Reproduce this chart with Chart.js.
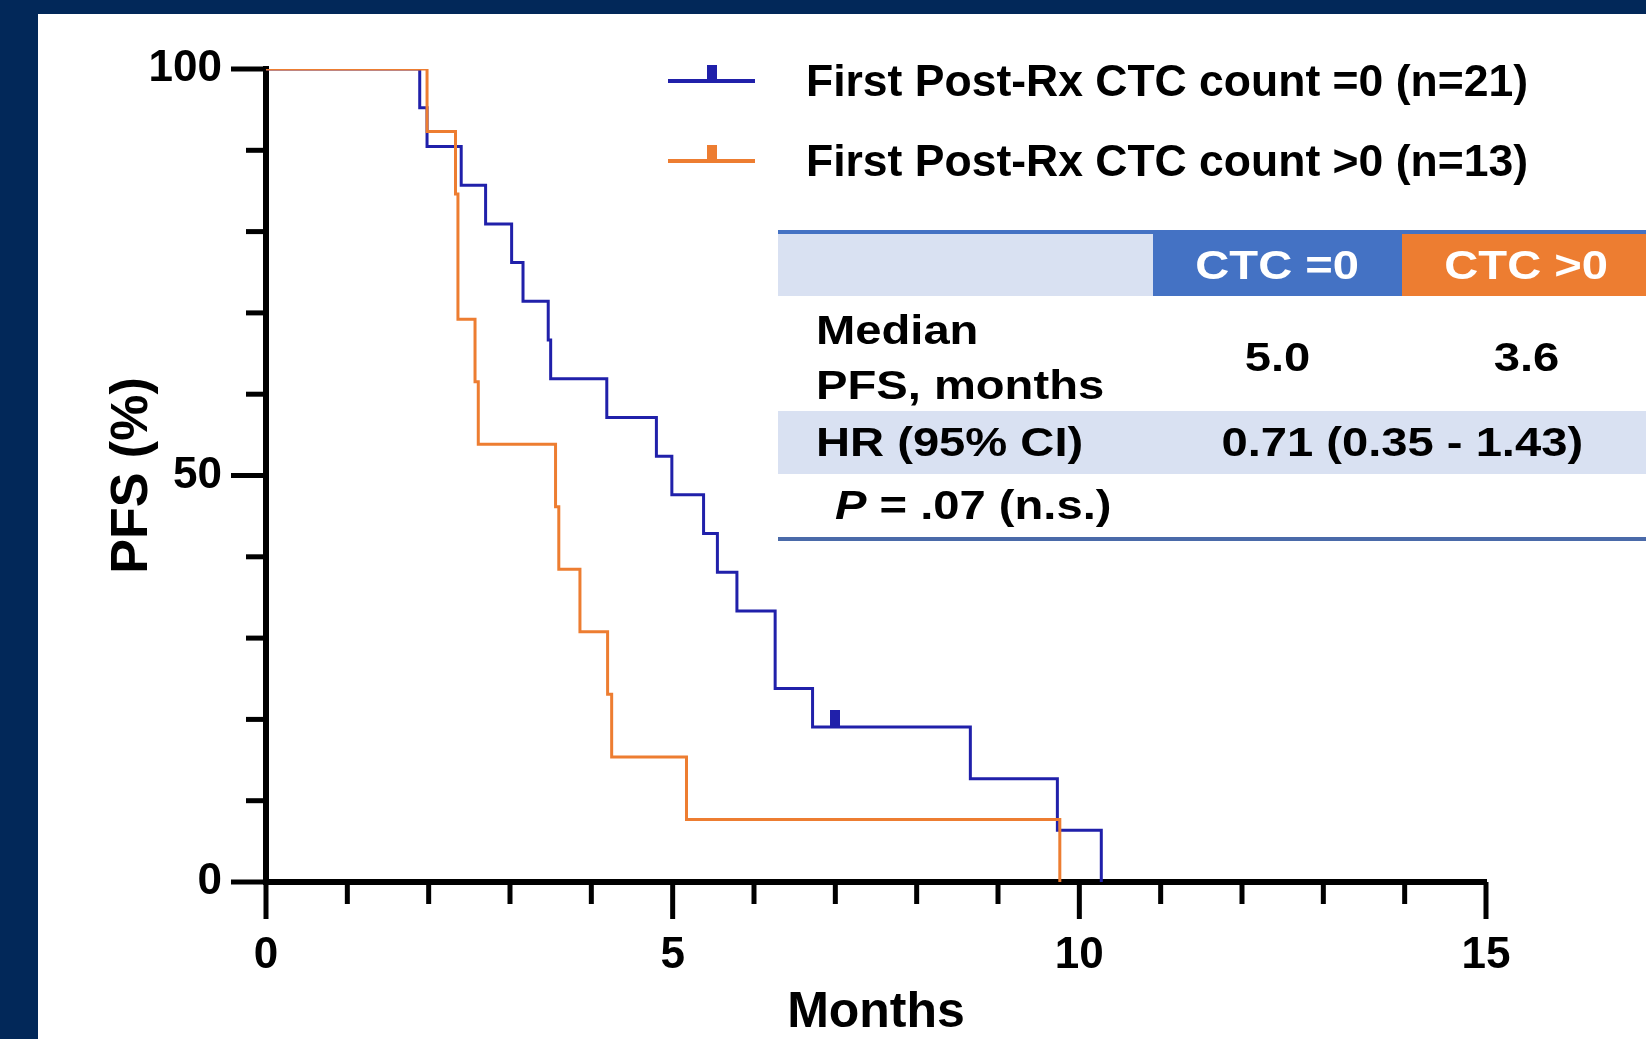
<!DOCTYPE html>
<html>
<head>
<meta charset="utf-8">
<title>PFS by first post-Rx CTC count</title>
<script src="https://cdn.jsdelivr.net/npm/chart.js@4.4.1/dist/chart.umd.min.js"></script>
<style>
  html, body { margin: 0; padding: 0; }
  body { width: 1646px; height: 1039px; background: #022859; overflow: hidden; position: relative; font-family: 'Liberation Sans', Arial, sans-serif; }
  #panel { position: absolute; left: 38px; top: 14px; width: 1608px; height: 1025px; background: #fff; overflow: hidden; }
  #chart { position: absolute; left: 0; top: 0; }
  .legend-row { position: absolute; left: 630px; width: 900px; height: 60px; }
  .legend-row .swatch { position: absolute; left: 0; top: 28px; width: 87px; height: 4px; }
  .legend-row .mark { position: absolute; left: 39px; top: 14px; width: 10px; height: 16px; }
  .legend-row .label { position: absolute; left: 138px; top: 0; line-height: 60px; font-size: 44.5px; font-weight: bold; color: #000; white-space: nowrap; }
  #stats { position: absolute; left: 740px; top: 216px; width: 873px; border-top: 4px solid #4472c4; border-bottom: 4px solid #4a6aa9; }
  .row { display: flex; box-sizing: border-box; }
  .cell { display: flex; align-items: center; box-sizing: border-box; font-size: 41px; font-weight: bold; color: #000; white-space: nowrap; line-height: 55px; }
  .cell.c { justify-content: center; }
  .cell span { display: inline-block; transform: scaleX(1.15); }
  .cell.l span { transform-origin: left center; }
</style>
</head>
<body>
<div id="panel">
  <canvas id="chart" width="1608" height="1025" style="width:1608px;height:1025px"></canvas>
  <div id="legend"></div>
  <div id="stats"></div>
</div>
<script>
// Kaplan-Meier steps (months, % progression-free)
var blueMonths   = [0, 1.89, 1.98, 2.40, 2.70, 3.02, 3.16, 3.47, 3.50, 4.19, 4.80, 4.99, 5.38, 5.55, 5.79, 6.26, 6.72, 8.66, 9.73, 10.27];
var blueSurvival = [100, 95.24, 90.48, 85.71, 80.95, 76.19, 71.43, 66.67, 61.90, 57.14, 52.38, 47.62, 42.86, 38.10, 33.33, 23.81, 19.05, 12.70, 6.35, 0];
var blueCensorMonths   = [7.00];
var blueCensorSurvival = [19.05];

var orangeMonths   = [0, 1.98, 2.33, 2.36, 2.57, 2.61, 3.56, 3.60, 3.86, 4.20, 4.25, 5.17, 9.76];
var orangeSurvival = [100, 92.31, 84.62, 69.23, 61.54, 53.85, 46.15, 38.46, 30.77, 23.08, 15.38, 7.69, 0];

var seriesLabels = ['First Post-Rx CTC count =0 (n=21)', 'First Post-Rx CTC count >0 (n=13)'];
var xTickValues = [0, 5, 10, 15];
var yTickValues = [0, 50, 100];

var tableHeader = ['', 'CTC =0', 'CTC >0'];
var medianLabel = ['Median', 'PFS, months'];
var medianValues = ['5.0', '3.6'];
var hrLabel = 'HR (95% CI)';
var hrValue = '0.71 (0.35 - 1.43)';
var pValue = '= .07 (n.s.)';

var blue = '#2020aa';
var orange = '#ed7d31';
var font = "'Liberation Sans', Arial, sans-serif";

function toPoints(xs, ys) {
  return xs.map(function(x, i) { return { x: x, y: ys[i] }; });
}

// censor tick: small block sitting on top of the curve
function censorMark(color) {
  var c = document.createElement('canvas');
  c.width = 10; c.height = 34;
  var g = c.getContext('2d');
  g.fillStyle = color;
  g.fillRect(0, 0, 10, 17);
  return c;
}

// major / minor tick marks like the original graph
var axisTicks = {
  id: 'axisTicks',
  beforeDatasetsDraw: function(chart) {
    var ctx = chart.ctx, x = chart.scales.x, y = chart.scales.y;
    ctx.save();
    ctx.strokeStyle = '#000';
    ctx.lineWidth = 5;
    for (var m = x.min; m <= x.max; m++) {
      var px = x.getPixelForValue(m);
      ctx.beginPath(); ctx.moveTo(px, x.top); ctx.lineTo(px, x.top + (m % 5 === 0 ? 37 : 22)); ctx.stroke();
    }
    for (var v = y.min; v <= y.max; v += 10) {
      var py = y.getPixelForValue(v);
      ctx.beginPath(); ctx.moveTo(y.right, py); ctx.lineTo(y.right - (v % 50 === 0 ? 35 : 20), py); ctx.stroke();
    }
    ctx.restore();
  }
};

Chart.defaults.font.family = font;

new Chart(document.getElementById('chart').getContext('2d'), {
  type: 'line',
  data: {
    datasets: [
      { label: seriesLabels[0], data: toPoints(blueMonths, blueSurvival), borderColor: blue, borderWidth: 3, stepped: 'before', pointRadius: 0, fill: false, order: 2 },
      { label: seriesLabels[1], data: toPoints(orangeMonths, orangeSurvival), borderColor: orange, borderWidth: 3, stepped: 'before', pointRadius: 0, fill: false, order: 1 },
      { label: 'censored', data: toPoints(blueCensorMonths, blueCensorSurvival), showLine: false, pointStyle: censorMark(blue), pointRadius: 5, order: 0 }
    ]
  },
  options: {
    responsive: false, devicePixelRatio: 1, animation: false, events: [],
    layout: { padding: { left: 0, top: 55, right: 160, bottom: 0 } },
    plugins: { legend: { display: false }, tooltip: { enabled: false } },
    scales: {
      x: {
        type: 'linear', min: 0, max: 15,
        afterFit: function(s) { s.height = 157; },
        afterBuildTicks: function(s) { s.ticks = xTickValues.map(function(v) { return { value: v }; }); },
        grid: { display: false, drawTicks: false },
        border: { display: true, width: 6, color: '#000' },
        ticks: { padding: 47, color: '#000', maxRotation: 0, autoSkip: false, font: { size: 44, weight: 'bold' } },
        title: { display: true, text: 'Months', color: '#000', font: { size: 50, weight: 'bold', lineHeight: 1 }, padding: { top: 0, bottom: 1 } }
      },
      y: {
        type: 'linear', min: 0, max: 100,
        afterFit: function(s) { s.width = 228; s.paddingTop = 0; s.paddingBottom = 0; },
        afterBuildTicks: function(s) { s.ticks = yTickValues.map(function(v) { return { value: v }; }); },
        grid: { display: false, drawTicks: false },
        border: { display: true, width: 6, color: '#000' },
        ticks: { padding: 44, color: '#000', font: { size: 44, weight: 'bold' } },
        title: { display: true, text: 'PFS (%)', color: '#000', font: { size: 52, weight: 'bold', lineHeight: 1 }, padding: { top: 69, bottom: 0 } }
      }
    }
  },
  plugins: [axisTicks]
});

// legend
var legend = document.getElementById('legend');
[[blue, 37], [orange, 117]].forEach(function(item, i) {
  var row = document.createElement('div');
  row.className = 'legend-row';
  row.style.top = item[1] + 'px';
  row.innerHTML = '<div class="swatch" style="background:' + item[0] + '"></div>' +
    '<div class="mark" style="background:' + item[0] + '"></div>' +
    '<div class="label">' + seriesLabels[i] + '</div>';
  legend.appendChild(row);
});

// summary table
function cell(html, width, cls, style) {
  return '<div class="cell ' + cls + '" style="width:' + width + 'px;' + (style || '') + '"><span>' + html + '</span></div>';
}
var stats = document.getElementById('stats');
stats.innerHTML =
  '<div class="row" style="height:62px">' +
    cell(tableHeader[0], 375, 'l', 'background:#d9e1f2') +
    cell(tableHeader[1], 249, 'c', 'background:#4472c4;color:#fff') +
    cell(tableHeader[2], 249, 'c', 'background:#ed7d31;color:#fff') +
  '</div>' +
  '<div class="row" style="height:115px;padding-top:8px;background:#fff">' +
    cell(medianLabel.join('<br>'), 375, 'l', 'padding-left:38px') +
    cell(medianValues[0], 249, 'c') +
    cell(medianValues[1], 249, 'c') +
  '</div>' +
  '<div class="row" style="height:63px;background:#d9e1f2">' +
    cell(hrLabel, 375, 'l', 'padding-left:38px') +
    cell(hrValue, 498, 'c') +
  '</div>' +
  '<div class="row" style="height:63px;background:#fff">' +
    cell('<i>P</i> ' + pValue, 375, 'l', 'padding-left:57px') +
  '</div>';
</script>
</body>
</html>
